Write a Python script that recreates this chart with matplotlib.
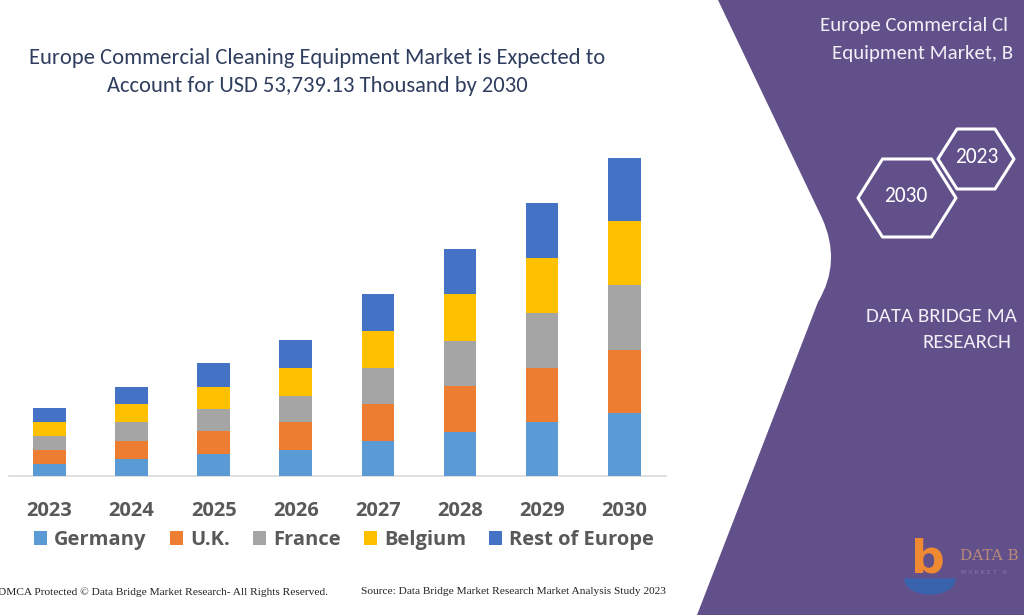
import matplotlib
matplotlib.use("Agg")
import matplotlib.pyplot as plt
from matplotlib.path import Path
from matplotlib.patches import PathPatch, Polygon, Patch
import numpy as np

# ---------------- data (USD thousand) ----------------
years = ["2023", "2024", "2025", "2026", "2027", "2028", "2029", "2030"]
germany = [2030, 2870, 3720, 4390, 5920, 7440, 9130, 10650]
uk = [2370, 3040, 3890, 4730, 6250, 7770, 9130, 10650]
france = [2370, 3210, 3720, 4390, 6080, 7610, 9300, 10990]
belgium = [2370, 3040, 3720, 4730, 6250, 7940, 9300, 10810]
rest_of_europe = [2370, 2870, 4060, 4730, 6250, 7610, 9300, 10640]
series_names = ["Germany", "U.K.", "France", "Belgium", "Rest of Europe"]
series_colors = ["#5b9bd5", "#ed7d31", "#a5a5a5", "#ffc000", "#4472c4"]

title_lines = ["Europe Commercial Cleaning Equipment Market is Expected to",
               "Account for USD 53,739.13 Thousand by 2030"]

W, H = 1024, 615
fig = plt.figure(figsize=(W / 100, H / 100), dpi=100)
fig.patch.set_facecolor("white")

# ---------------- background decoration axes (pixel coords) ----------------
bg = fig.add_axes([0, 0, 1, 1], zorder=0)
bg.set_xlim(0, W)
bg.set_ylim(H, 0)
bg.axis("off")

purple = "#61508a"
verts = [(718, 0), (822, 218), (842, 262), (818, 302), (697, 615), (W, 615), (W, 0), (718, 0)]
codes = [Path.MOVETO, Path.LINETO, Path.CURVE3, Path.CURVE3, Path.LINETO, Path.LINETO, Path.LINETO, Path.CLOSEPOLY]
bg.add_patch(PathPatch(Path(verts, codes), facecolor=purple, edgecolor="none", zorder=1))

# hexagons
def hexagon(cx, cy, w, h):
    pts = [(cx - w / 2, cy), (cx - w / 4, cy - h / 2), (cx + w / 4, cy - h / 2),
           (cx + w / 2, cy), (cx + w / 4, cy + h / 2), (cx - w / 4, cy + h / 2)]
    bg.add_patch(Polygon(pts, closed=True, facecolor="none", edgecolor="white",
                         lw=2.2, joinstyle="round", zorder=3))

hexagon(907, 198, 98, 78)
hexagon(976, 159, 76, 60)
tfam = ["Carlito", "Open Sans", "DejaVu Sans"]
bg.text(906, 196, "2030", color="white", fontsize=15.5, family=tfam, ha="center", va="center", zorder=4)
bg.text(977, 157, "2023", color="white", fontsize=15.5, family=tfam, ha="center", va="center", zorder=4)

# right panel texts (cut by the picture edge in the original)
pcol = "#f2eff7"
bg.text(820, 25, "Europe Commercial Cl", color=pcol, fontsize=15, family=tfam,
        ha="left", va="center", zorder=4)
bg.text(832, 53, "Equipment Market, B", color=pcol, fontsize=15, family=tfam,
        ha="left", va="center", zorder=4)
bg.text(866, 316, "DATA BRIDGE MA", color=pcol, fontsize=15, family=tfam,
        ha="left", va="center", zorder=4)
bg.text(922, 343, "RESEARCH", color=pcol, fontsize=15, family=tfam,
        ha="left", va="center", zorder=4)

# logo
bg.text(928, 560, "b", color="#f08a32", fontsize=34, fontweight="bold", family="DejaVu Sans",
        ha="center", va="center", zorder=4)
th = np.linspace(0, np.pi, 40)
bg.fill(930 + 25 * np.cos(th), 579 + 15 * np.sin(th), color="#3a63ad", zorder=3.5)
bg.text(960, 556, "DATA B", color="#b98a78", fontsize=11, family="DejaVu Serif",
        ha="left", va="center", zorder=4)
bg.text(961, 572, "M A R K E T   R", color="#8a7aa8", fontsize=4.5,
        ha="left", va="center", zorder=4)

# title
for i, line in enumerate(title_lines):
    bg.text(317, 58 + 28 * i, line, color="#2f3d5f", fontsize=16.2, family=tfam,
            ha="center", va="center", zorder=4)

# footer
bg.text(-2, 592, "DMCA Protected \u00a9 Data Bridge Market Research- All Rights Reserved.",
        color="#222222", fontsize=8.2, family="Liberation Serif", ha="left", va="center", zorder=4)
bg.text(361, 592, "Source: Data Bridge Market Research Market Analysis Study 2023",
        color="#222222", fontsize=8.2, family="Liberation Serif", ha="left", va="center", zorder=4)

# ---------------- bar chart ----------------
ax_left, ax_right, ax_top, ax_bot = 9, 666, 150, 476
ax = fig.add_axes([ax_left / W, 1 - ax_bot / H, (ax_right - ax_left) / W, (ax_bot - ax_top) / H], zorder=2)
ax.patch.set_alpha(0)
x = np.arange(len(years))
bottom = np.zeros(len(years))
for vals, name, col in zip([germany, uk, france, belgium, rest_of_europe], series_names, series_colors):
    ax.bar(x, vals, width=0.4, bottom=bottom, color=col, label=name, zorder=3)
    bottom += np.array(vals)

ax.set_xlim(-0.495, 7.51)
ax.set_ylim(0, 53739 * 326 / 318)
for s in ["top", "right", "left"]:
    ax.spines[s].set_visible(False)
ax.spines["bottom"].set_color("#d9d9d9")
ax.spines["bottom"].set_linewidth(1.2)
ax.set_yticks([])
ax.set_xticks(x)
lblfont = ["Open Sans", "DejaVu Sans"]
ax.set_xticklabels(years, fontsize=14.5, fontweight="bold", color="#595959", family=lblfont)
ax.tick_params(axis="x", length=0, pad=18)

handles = [Patch(facecolor=c, edgecolor="none") for c in series_colors]
fig.legend(handles, series_names, loc="center", bbox_to_anchor=(344 / W, 1 - 540 / H),
           ncol=5, frameon=False, handlelength=0.65, handleheight=0.65, handletextpad=0.35,
           columnspacing=1.15, prop={"family": lblfont, "size": 14.5, "weight": "bold"},
           labelcolor="#595959")

fig.savefig("out.png", dpi=100, facecolor="white")
